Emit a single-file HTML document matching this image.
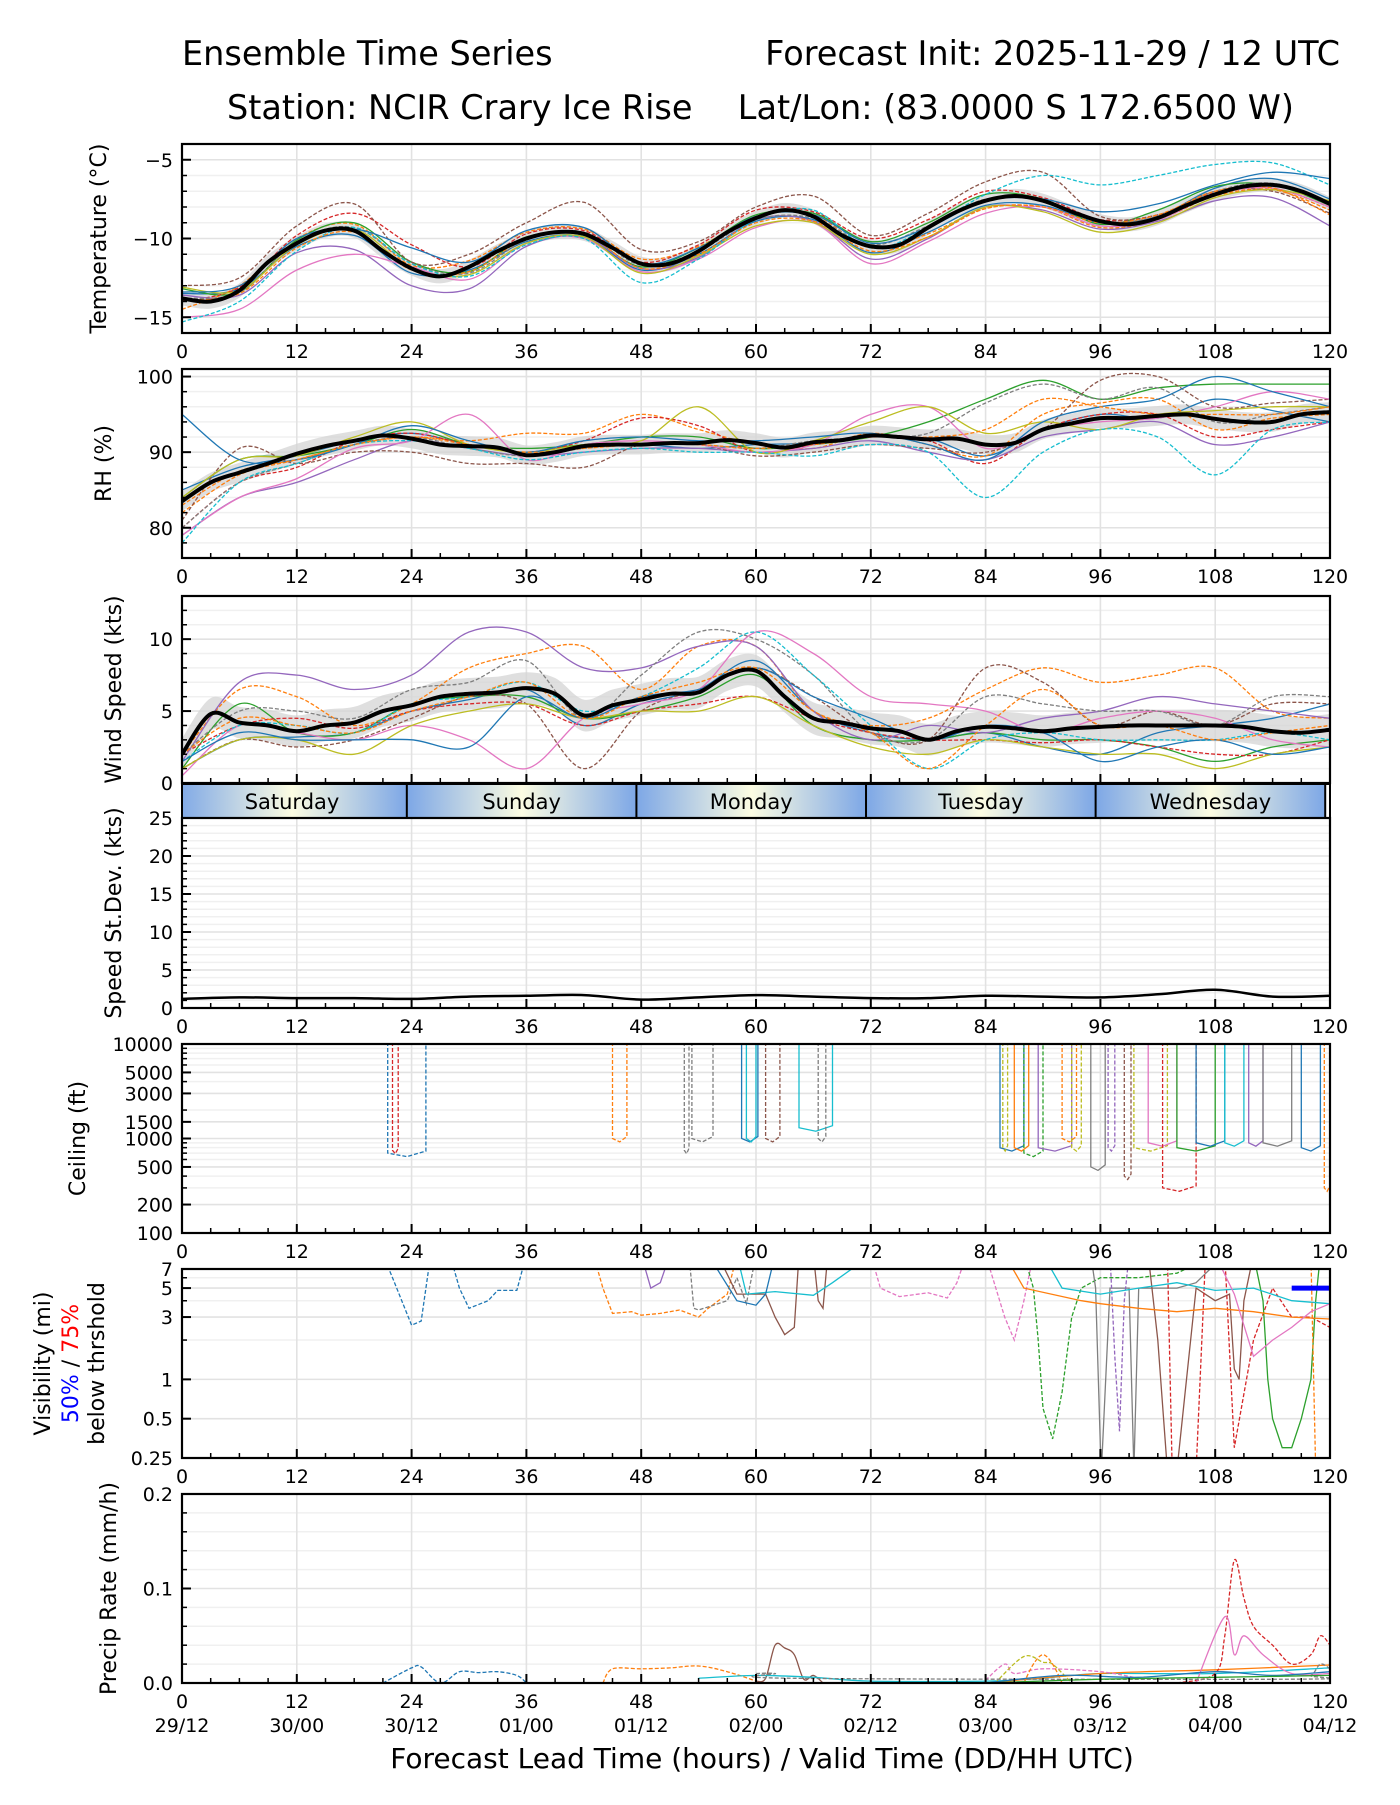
<!DOCTYPE html>
<html><head><meta charset="utf-8"><style>
body{margin:0;background:#fff}
svg text{font-family:"DejaVu Sans","Liberation Sans",sans-serif;fill:#000}
</style></head><body>
<svg id="chart" width="1400" height="1800" xmlns="http://www.w3.org/2000/svg">
<rect width="1400" height="1800" fill="#fff"/>
<text x="182" y="65" font-size="33.5">Ensemble Time Series</text>
<text x="1340" y="65" font-size="33.5" text-anchor="end">Forecast Init: 2025-11-29 / 12 UTC</text>
<text x="227" y="119" font-size="33.5">Station: NCIR Crary Ice Rise</text>
<text x="1294" y="119" font-size="33.5" text-anchor="end">Lat/Lon: (83.0000 S 172.6500 W)</text>
<g id="layer"></g>
</svg>
<script>
const hours6=[0,6,12,18,24,30,36,42,48,54,60,66,72,78,84,90,96,102,108,114,120];
const tempMean=[-13.8,-14.0,-13.3,-11.5,-10.3,-9.5,-9.5,-10.8,-11.9,-12.4,-11.8,-10.8,-10.0,-9.6,-9.7,-10.6,-11.6,-11.6,-10.8,-9.6,-8.7,-8.2,-8.6,-9.8,-10.5,-10.4,-9.3,-8.3,-7.6,-7.3,-7.6,-8.3,-8.9,-9.1,-8.7,-7.9,-7.2,-6.7,-6.6,-7.0,-7.8];
const tempMembers=[
[-13.5,-13.2,-10.5,-9.8,-12.2,-12.0,-10.2,-9.9,-12.0,-11.0,-8.9,-8.8,-10.9,-9.6,-7.9,-7.9,-9.0,-8.6,-6.8,-6.2,-7.5],
[-14.5,-13.0,-10.0,-9.1,-11.7,-11.4,-9.6,-9.4,-11.3,-10.5,-8.6,-8.5,-10.6,-9.7,-8.1,-8.0,-9.3,-8.8,-7.3,-6.9,-8.2],
[-13.2,-13.4,-10.1,-9.0,-11.5,-12.1,-9.9,-9.8,-11.8,-10.6,-8.5,-8.4,-10.2,-9.0,-7.2,-7.5,-9.1,-8.2,-6.7,-6.6,-7.9],
[-14.0,-13.1,-9.8,-8.4,-10.4,-11.8,-9.7,-9.5,-11.5,-10.4,-8.2,-8.3,-10.0,-8.8,-7.0,-7.4,-8.8,-8.5,-7.1,-6.8,-8.0],
[-13.6,-13.6,-10.9,-10.7,-13.0,-13.2,-10.5,-9.9,-11.9,-11.2,-8.8,-8.9,-11.3,-10.0,-8.0,-8.2,-9.4,-8.9,-7.6,-7.4,-9.2],
[-13.0,-12.5,-9.2,-7.8,-11.5,-11.0,-9.0,-7.7,-10.7,-10.2,-8.0,-7.3,-9.8,-8.4,-6.4,-5.8,-8.6,-8.5,-7.0,-7.0,-8.4],
[-15.0,-14.5,-12.0,-11.0,-11.8,-12.6,-10.3,-10.0,-12.1,-11.3,-9.3,-9.0,-11.6,-10.2,-8.4,-8.0,-9.2,-8.8,-7.2,-6.8,-8.0],
[-13.8,-13.4,-10.2,-9.3,-11.6,-12.2,-10.1,-9.6,-11.7,-10.8,-8.8,-8.7,-10.4,-9.2,-7.5,-7.6,-8.9,-8.6,-7.0,-6.5,-7.7],
[-13.1,-13.3,-10.4,-9.4,-11.9,-12.3,-10.3,-9.9,-12.2,-11.1,-9.2,-9.0,-11.0,-9.9,-8.0,-8.3,-9.6,-9.0,-7.4,-6.9,-7.6],
[-15.3,-14.0,-10.8,-9.3,-11.6,-12.4,-10.4,-10.0,-12.8,-11.3,-8.8,-8.2,-10.6,-9.3,-7.2,-6.0,-6.6,-6.0,-5.3,-5.2,-6.6],
[-13.4,-13.0,-10.0,-9.4,-10.6,-11.5,-9.5,-9.3,-11.6,-10.6,-8.6,-8.5,-10.3,-9.3,-7.6,-7.5,-8.3,-7.8,-6.6,-5.8,-6.2],
[-13.9,-13.5,-10.6,-9.6,-12.0,-12.1,-10.0,-9.7,-11.9,-11.0,-9.0,-8.9,-10.8,-9.9,-8.1,-8.0,-9.0,-8.5,-7.0,-6.8,-8.5]];
const rhMean=[83.5,86,87.3,88.5,89.8,90.8,91.5,92.2,91.8,91,90.8,90.6,89.6,90,90.8,91,91,91.2,91.2,91.6,91.2,90.6,91.3,91.6,92.2,92,91.7,91.8,91,91.2,93,93.8,94.5,94.5,94.8,95,94.4,94,94,95,95.3];
const rhMembers=[
[85,88,89.5,91.5,92.5,91,90,91,91,90.5,91,91.2,92,91.8,89.5,93,95,94.5,97,95.5,94],
[82,87,89,91,92,91.5,92.5,92.5,95,93,91,90.5,92.5,91,89.5,95,96.5,97,93,94.5,95],
[84,89,89.5,91,93,91,90.5,91,92,92,90.5,91,92,94,97,99.5,97,98.5,99,99,99],
[80,86,88,91.5,92.5,91,90,91.5,94.5,93.5,90,91,92,91.5,88.5,93,95,95,92,93,94],
[79,84,86,89,91.5,90.5,89.5,90,90.5,90.5,90,90.5,91.5,90,89,92,93,94,91,92,94],
[81,90.5,88.5,90,90,88.5,88.5,88,91,91,89.5,90,91,90.5,90,93,99.5,100,96,96.5,97],
[79,84,86.5,90.5,91.5,95,89,91,91.5,91,90,91,95,96,90.5,93,94,94.5,96,98,97],
[80,86,88.5,91,92,90.5,89.5,90.5,91,91,90.5,91.5,92,92.5,96.5,99,97,98.5,94,95,96],
[84,89,89.5,92,94,91,90,91,91.5,96,90,91.5,94,96,92.5,94,93,95,95.5,96,96],
[78,86,88.5,91,91.5,90.5,89,90,90.5,90,90,89.5,91,90,84,90,93,92,87,93,94],
[95,89,89,91,93.5,91.5,90,91.5,92,91.5,91.5,92,92.5,91,89,94,96,97,100,98,96],
[83,87.5,89,91,92,91,90,90.5,91,91,90.5,91,92,92,93,97,96,95,95,95,96]];
const windMean=[2,4.8,4.2,4,3.6,4,4.2,5,5.4,6,6.2,6.3,6.6,6.2,4.7,5.4,5.8,6.2,6.3,7.5,7.8,6,4.5,4.2,3.8,3.6,3,3.6,3.9,3.8,3.6,3.8,3.9,4,4,4,4,3.9,3.6,3.5,3.7];
const windMembers=[
[1,3,3.2,3.5,5,5.8,6.5,4,5.5,6.5,8.5,5,3.5,3,3.5,2.5,2,3.5,4,4.5,5.5],
[2,6.5,6,4,5.5,8,9,9.5,6.5,9.5,9.5,5,4,4.5,6.5,8,7,7.5,8,5,4.5],
[1,5.5,3.5,3.5,5.5,6,6,4.5,5,6,7.5,4,3,3,3.5,3,3,2.5,1.5,2.5,3],
[2,4,4.5,3.8,5,5.5,5.5,4,5,5.5,6,4.5,3.5,3,3,2.8,3,2.5,2,2,3],
[1.5,7,7.5,6.5,7.5,10.5,10.5,8,8,9.5,9.5,5,3,4,3.5,4.5,5,6,5.5,5,4.5],
[1,3,2.5,3,4.5,6,5.5,1,5,6.5,8,6,3.5,3,8,7,4,5,4,5.5,5.5],
[0.5,4,3.5,3,4,3,1,4.5,5.5,6.5,10.5,9,6,5.5,5,3.5,4.5,5,4.5,3,2.5],
[2,5,5,4.5,6.5,7,8.5,4.5,7.5,10.5,10,7.5,3.5,3,6,5.5,5,5,4,6,6],
[1,3,3,2,4,5,5.5,4.5,5,5,6,4,2.5,2,3,2.5,2,2,1,2,2.5],
[1.5,4,4,3.5,5.5,6,7,5,6,8,10.5,7.5,4,1,3,3.5,3,3,3,3.5,3],
[1.5,3.5,3,3,3,2.5,6,4.5,6,6.5,8,6,4.5,3,4,3.5,1.5,2.5,3,2,2.5],
[2,4.5,4,3.5,5,6,7,4.5,6,7,8,5,3.5,1,4,6.5,4,4,3,3.5,4]];
const sdValues=[1.2,1.4,1.3,1.3,1.2,1.5,1.6,1.7,1.1,1.4,1.7,1.5,1.3,1.3,1.6,1.5,1.4,1.8,2.4,1.5,1.6];
const dayNames=["Saturday","Sunday","Monday","Tuesday","Wednesday"];
const xTickLabels=["0","12","24","36","48","60","72","84","96","108","120"];
const dateLabels=["29/12","30/00","30/12","01/00","01/12","02/00","02/12","03/00","03/12","04/00","04/12"];
const ceilTicks=[100,200,500,1000,1500,3000,5000,10000];
const ceilEpisodes=[[0,1,21.5,25.5,700],[3,1,22,22.6,750],[1,1,45,46.5,1000],[7,1,52.5,53,750],[7,1,53.3,55.5,1000],[0,0,58.5,60.2,1000],[9,0,59,60,1000],[5,1,61,62.5,1000],[9,0,64.5,68,1300],[7,1,66.5,67.3,1000],[0,0,85.5,88,800],[8,1,85.8,86.3,800],[1,0,87,88.5,800],[2,1,88,90,700],[4,0,89.5,93,800],[1,1,92,93.5,1000],[8,1,93,94,800],[7,0,95,96.5,500],[4,1,96.8,97.5,800],[5,1,98.5,99.2,400],[8,1,99.5,103,800],[6,0,101,104,900],[3,1,102.5,106,300],[2,0,104,108,800],[0,0,106,109,900],[9,0,109,111,900],[4,0,111.5,113,900],[7,0,113,116,900],[0,0,117,119,800],[1,1,119.4,120,300]];
const visTicks=[0.25,0.5,1,3,5,7];
const visMembers=[
[0,1,[[21,9],[22,6],[24,2.6],[25,2.8],[26,9],[28,9],[29,5],[30,3.5],[32,4],[33,4.8],[35,4.8],[36,9]]],
[1,1,[[43,9],[44,5],[45,3.2],[47,3.3],[48,3.1],[50,3.2],[52,3.4],[54,3],[55,3.5],[57,4.5],[58,9]]],
[4,0,[[48,9],[49,5],[50,5.5],[51,9]]],
[7,1,[[53,9],[53.5,3.5],[54,3.4],[57,4],[58,6],[59,3.8],[60,9]]],
[5,0,[[56,9],[58,4.5],[61,4.5],[62,3],[63,2.2],[64,2.5],[64.5,9],[66,9],[66.5,4],[67,3.5],[67.5,9]]],
[9,0,[[58,9],[59,4.5],[62,4.7],[66,4.4],[68,5.5],[70,7],[72,9]]],
[0,0,[[55,9],[58,4],[60,3.7],[61,4.5],[62,9]]],
[6,1,[[72,9],[73,5],[75,4.3],[78,4.6],[80,4.2],[81,5.5],[82,9],[84,9],[86,3],[87,2],[88,4],[89,9]]],
[2,1,[[88,9],[89,5],[89.5,2],[90,0.6],[91,0.35],[92,0.8],[93,3],[94,5],[96,6],[100,6],[104,6.5],[108,9]]],
[7,0,[[95,9],[95.5,5],[96,0.3],[96.1,0.2],[97,5],[99,5],[99.5,0.2],[100,5],[104,5],[106,5.5],[109,9]]],
[4,1,[[97,9],[97.5,1.5],[98,0.4],[98.5,4],[99,9]]],
[5,0,[[101,9],[102,2],[103,0.2],[104,0.2],[105,1],[106,5],[108,4],[109.5,4.5],[110,1.2],[110.5,1],[111,4],[112,9]]],
[3,1,[[103,9],[103.5,0.2],[106,0.2],[107,9],[109,9],[110,0.3],[112,2],[114,5],[116,3],[118,3],[120,2.5]]],
[2,0,[[112,9],[113,4],[113.5,1],[114,0.5],[115,0.3],[116,0.3],[117,0.5],[118,1],[118.5,4],[119,9]]],
[1,0,[[86,9],[88,5],[94,4],[96,3.8],[100,3.5],[104,3.3],[108,3.5],[112,3.3],[116,3],[120,2.9]]],
[9,0,[[90,9],[92,5],[96,4.5],[100,5],[104,5.5],[108,4.8],[112,5],[116,4],[120,3.8]]],
[1,1,[[118,9],[118.5,0.2]]],
[6,0,[[108,9],[110,4.5],[112,1.5],[114,2],[116,2.5],[118,3.3],[120,3.8]]]];
const visThreshold=[[116,5],[120,5]];
const prTicks=[0,0.1,0.2];
const prMembers=[
[0,1,[[21,0],[24,0.016],[25,0.017],[27,0],[29,0.012],[31,0.011],[33,0.012],[35,0.008],[36,0]]],
[1,1,[[44,0],[45,0.015],[48,0.015],[51,0.016],[54,0.018],[57,0.012],[60,0.002]]],
[5,0,[[60,0.002],[61,0.005],[62,0.04],[63,0.037],[64,0.03],[65,0.004],[66,0.008],[67,0]]],
[9,0,[[54,0.005],[60,0.008],[66,0.006],[72,0.002],[84,0.002],[90,0.005],[96,0.01],[108,0.01],[120,0.016]]],
[1,0,[[84,0],[96,0.01],[108,0.014],[120,0.019]]],
[6,1,[[84,0.003],[86,0.02],[87,0.01],[90,0.015],[96,0.012],[100,0.005]]],
[3,1,[[104,0],[108,0.01],[109,0.05],[110,0.13],[111,0.09],[112,0.06],[114,0.04],[116,0.02],[118,0.03],[119,0.05],[120,0.04]]],
[6,0,[[106,0],[109,0.07],[110,0.03],[111,0.05],[113,0.03],[116,0.01],[120,0.01]]],
[8,1,[[85,0],[88,0.028],[90,0.022],[91,0.02],[93,0]]],
[1,1,[[88,0],[89,0.02],[90,0.03],[91,0.02],[92,0]]],
[7,1,[[60,0.01],[62,0.01],[64,0.005],[116,0.004],[118,0.008],[119,0.02],[120,0.015]]],
[0,0,[[84,0],[92,0.008],[100,0.006],[108,0.012],[114,0.008],[120,0.012]]],
[2,0,[[84,0],[96,0.004],[108,0.006],[120,0.008]]]];

const COLORS=["#1f77b4","#ff7f0e","#2ca02c","#d62728","#9467bd","#8c564b","#e377c2","#7f7f7f","#bcbd22","#17becf"];
const NS="http://www.w3.org/2000/svg";
const layer=document.getElementById('layer');
const X0=182,X1=1330;
const TF=19;
const xs=h=>X0+(X1-X0)*h/120;
function mk(tag,attrs,parent){const e=document.createElementNS(NS,tag);for(const k in attrs)e.setAttribute(k,attrs[k]);(parent||layer).appendChild(e);return e;}
function linY(top,bot,lo,hi){return v=>bot-(v-lo)/(hi-lo)*(bot-top);}
function logY(top,bot,lo,hi){return v=>bot-(Math.log(v)-Math.log(lo))/(Math.log(hi)-Math.log(lo))*(bot-top);}
function smoothPath(pts){let d=`M${pts[0][0].toFixed(1)},${pts[0][1].toFixed(1)}`;for(let i=0;i<pts.length-1;i++){const p0=pts[Math.max(0,i-1)],p1=pts[i],p2=pts[i+1],p3=pts[Math.min(pts.length-1,i+2)];const c1=[p1[0]+(p2[0]-p0[0])/6,p1[1]+(p2[1]-p0[1])/6],c2=[p2[0]-(p3[0]-p1[0])/6,p2[1]-(p3[1]-p1[1])/6];d+=`C${c1[0].toFixed(1)},${c1[1].toFixed(1)} ${c2[0].toFixed(1)},${c2[1].toFixed(1)} ${p2[0].toFixed(1)},${p2[1].toFixed(1)}`;}return d;}
function linPath(pts){return pts.map((p,i)=>(i?'L':'M')+p[0].toFixed(1)+','+p[1].toFixed(1)).join('');}
let clipN=0;
function panel(name,top,bot,yMajor,yLabelsArr,yMinor,yf,labelLines,labelX,showX){
  const g=mk('g',{});
  
  
  yMinor.forEach(v=>{mk('line',{x1:X0,x2:X1,y1:yf(v),y2:yf(v),stroke:'#f0f0f0','stroke-width':1.5},g);});
  for(let h=0;h<=120;h+=12)mk('line',{x1:xs(h),x2:xs(h),y1:top,y2:bot,stroke:'#e2e2e2','stroke-width':1.6},g);
  yMajor.forEach(v=>mk('line',{x1:X0,x2:X1,y1:yf(v),y2:yf(v),stroke:'#e2e2e2','stroke-width':1.6},g));
  const id='clip'+(clipN++);
  const cp=mk('clipPath',{id:id},g);mk('rect',{x:X0,y:top,width:X1-X0,height:bot-top},cp);
  const data=mk('g',{'clip-path':`url(#${id})`},g);
  
  
  for(let h=0;h<=120;h+=3){const maj=h%12===0;mk('line',{x1:xs(h),x2:xs(h),y1:bot,y2:bot-(maj?9:5),stroke:'#000','stroke-width':maj?2:1.5},g);}
  yMajor.forEach((v,i)=>{mk('line',{x1:X0,x2:X0+9,y1:yf(v),y2:yf(v),stroke:'#000','stroke-width':2},g);
    const t=mk('text',{x:X0-9,y:yf(v)+7,'font-size':TF,'text-anchor':'end'},g);t.textContent=yLabelsArr[i];
    
    });
  yMinor.forEach(v=>mk('line',{x1:X0,x2:X0+5,y1:yf(v),y2:yf(v),stroke:'#000','stroke-width':1.5},g));
  if(showX){xTickLabels.forEach((s,i)=>{const t=mk('text',{x:xs(i*12),y:bot+25,'font-size':TF,'text-anchor':'middle'},g);t.textContent=s;
    
    });}
  const cy=(top+bot)/2;
  labelLines.forEach((ln,i)=>{const t=mk('text',{transform:`translate(${labelX[i]},${cy}) rotate(-90)`,'font-size':22,'text-anchor':'middle'},g);
    
    
    if(Array.isArray(ln)){ln.forEach(seg=>{const ts=mk('tspan',{fill:seg[1]},t);ts.textContent=seg[0];});}else t.textContent=ln;});
  mk('rect',{x:X0,y:top,width:X1-X0,height:bot-top,fill:'none',stroke:'#000','stroke-width':2.2},g);
  return data;
}
function range(n,step){return Array.from({length:n},(_,i)=>i*step);}
function ensemble(data,yf,members,mean,band){
  const mh=range(mean.length,120/(mean.length-1));
  const up=mean.map((v,i)=>[xs(mh[i]),yf(v+band)]),dn=mean.map((v,i)=>[xs(mh[i]),yf(v-band)]).reverse();
  const b=mk('path',{d:smoothPath(up)+'L'+smoothPath(dn).slice(1)+'Z',fill:'#d4d4d4','fill-opacity':0.75},data);
  
  
  members.forEach((m,i)=>{const p=mk('path',{d:smoothPath(m.map((v,j)=>[xs(hours6[j]),yf(v)])),fill:'none',stroke:COLORS[i%10],'stroke-width':1.3,'stroke-dasharray':(i%2? '4,2':'none')},data);
    
    });
  const ml=mk('path',{d:smoothPath(mean.map((v,i)=>[xs(mh[i]),yf(v)])),fill:'none',stroke:'#000','stroke-width':4},data);
  
  
}
let yT=linY(144,333,-16,-4);
let d=panel('temperature',144,333,[-5,-10,-15],['\u22125','\u221210','\u221215'],range(13,1).map(v=>-16+v).filter(v=>v%5),yT,['Temperature (\u00b0C)'],[106],true);
ensemble(d,yT,tempMembers,tempMean,0.45);
let yR=linY(369,558,76,101);
d=panel('rh',369,558,[100,90,80],['100','90','80'],[78,82,84,86,88,92,94,96,98],yR,['RH (%)'],[111],true);
ensemble(d,yR,rhMembers,rhMean,1.3);
let yW=linY(596,783,0,13);
d=panel('wind',596,783,[0,5,10],['0','5','10'],[1,2,3,4,6,7,8,9,11,12],yW,['Wind Speed (kts)'],[121],false);
ensemble(d,yW,windMembers,windMean,1.1);
const db=mk('g',{});


const defs=mk('defs',{},db);
const gr=mk('linearGradient',{id:'dayg',x1:0,x2:1,y1:0,y2:0},defs);
[[0,'#7da7e6'],[0.5,'#fcfce2'],[1,'#7da7e6']].forEach(s=>mk('stop',{offset:s[0],'stop-color':s[1]},gr));
const dcp=mk('clipPath',{id:'dbclip'},db);mk('rect',{x:X0,y:784,width:X1-X0,height:34},dcp);
const dg=mk('g',{'clip-path':'url(#dbclip)'},db);
dayNames.forEach((n,i)=>{const a=-0.5+24*i;mk('rect',{x:xs(a),y:784,width:xs(a+24)-xs(a),height:34,fill:'url(#dayg)'},dg);
  const t=mk('text',{x:xs(a+12),y:809,'font-size':21,'text-anchor':'middle'},db);t.textContent=n;
  
  
  mk('line',{x1:xs(a+24),x2:xs(a+24),y1:784,y2:818,stroke:'#000','stroke-width':2},db);});
mk('rect',{x:X0,y:784,width:X1-X0,height:34,fill:'none',stroke:'#000','stroke-width':2},db);
let yS=linY(818,1008,0,25);
d=panel('speed-stdev',818,1008,[0,5,10,15,20,25],['0','5','10','15','20','25'],range(25,1).filter(v=>v%5),yS,['Speed St.Dev. (kts)'],[121],true);
const sdl=mk('path',{d:smoothPath(sdValues.map((v,i)=>[xs(hours6[i]),yS(v)])),fill:'none',stroke:'#000','stroke-width':2.5},d);


let yC=logY(1044,1233,100,10000);
d=panel('ceiling',1044,1233,ceilTicks,ceilTicks.map(String),[300,400,600,700,800,900,2000,4000,6000,7000,8000,9000],yC,['Ceiling (ft)'],[85],true);
ceilEpisodes.forEach(e=>{const p=mk('path',{d:linPath([[xs(e[2]),yC(10000)-2],[xs(e[2]),yC(e[4])],[xs((e[2]+e[3])/2),yC(e[4]*0.92)],[xs(e[3]),yC(e[4]*1.05)],[xs(e[3]),yC(10000)-2]]),fill:'none',stroke:COLORS[e[0]],'stroke-width':1.3,'stroke-dasharray':e[1]?'4,2':'none'},d);
  
  });
let yV=logY(1269,1458,0.25,7);
d=panel('visibility',1269,1458,visTicks,['0.25','0.5','1','3','5','7'],[2,4,6],yV,['Visibility (mi)',[['50%','#0000ff'],[' / ','#000'],['75%','#ff0000']],'below thrshold'],[50,78,104],true);
visMembers.forEach(m=>{const p=mk('path',{d:linPath(m[2].map(q=>[xs(q[0]),yV(q[1])])),fill:'none',stroke:COLORS[m[0]],'stroke-width':1.3,'stroke-dasharray':m[1]?'4,2':'none'},d);
  
  });
const vt=mk('path',{d:linPath(visThreshold.map(q=>[xs(q[0]),yV(q[1])])),fill:'none',stroke:'#0000ff','stroke-width':5},d);


let yP=linY(1494,1683,0,0.2);
d=panel('precip',1494,1683,prTicks,['0.0','0.1','0.2'],[0.02,0.04,0.06,0.08,0.12,0.14,0.16,0.18],yP,['Precip Rate (mm/h)'],[116],true);
prMembers.forEach(m=>{const p=mk('path',{d:smoothPath(m[2].map(q=>[xs(q[0]),yP(q[1])])),fill:'none',stroke:COLORS[m[0]],'stroke-width':1.3,'stroke-dasharray':m[1]?'4,2':'none'},d);
  
  });
dateLabels.forEach((s,i)=>{const t=mk('text',{x:xs(i*12),y:1732,'font-size':19,'text-anchor':'middle'});t.textContent=s;
  
  });
const xl=mk('text',{x:(X0+X1)/2+6,y:1768,'font-size':28,'text-anchor':'middle'});
xl.textContent='Forecast Lead Time (hours) / Valid Time (DD/HH UTC)';


</script>
</body></html>
